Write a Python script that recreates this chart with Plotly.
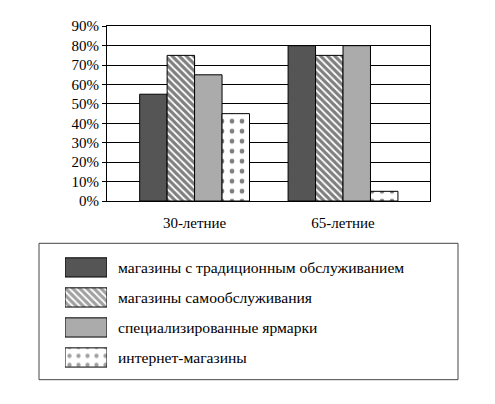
import plotly.graph_objects as go

# age groups on the x axis
groups = ["30-летние", "65-летние"]

# share of buyers, %
traditional = [55, 80]
self_service = [75, 75]
fairs = [65, 80]
online = [45, 5]

names = ["магазины с традиционным обслуживанием",
         "магазины самообслуживания",
         "специализированные ярмарки",
         "интернет-магазины"]
fill_colors = ["#555555", "white", "#ababab", "white"]
patterns = ["", "\\", "", "."]

W, H = 495, 404
font = dict(family="'Times New Roman', 'Liberation Serif', serif", size=15, color="black")
legend_font = dict(font, size=15.6)

def px_x(p):
    return p / W

def px_y(p):
    return 1 - p / H

fig = go.Figure()

series = [traditional, self_service, fairs, online]
for i in range(len(series)):
    fig.add_trace(go.Bar(
        x=groups, y=series[i], name=names[i], showlegend=False,
        marker=dict(color=fill_colors[i], line=dict(color="black", width=1),
                    pattern=dict(shape=patterns[i], fgcolor="black", bgcolor=fill_colors[i],
                                 size=5 if patterns[i] == "\\" else 10,
                                 solidity=0.65 if patterns[i] == "\\" else 0.18)),
        xaxis="x", yaxis="y"))

# legend drawn as a small bar chart so the swatches keep their patterns
fig.add_trace(go.Bar(
    x=[1] * len(names), y=names, orientation="h", width=0.64, showlegend=False,
    marker=dict(color=fill_colors, line=dict(color="black", width=1),
                pattern=dict(shape=patterns, fgcolor="black", bgcolor=fill_colors,
                             size=[8, 5, 8, 9], solidity=[0.2, 0.65, 0.2, 0.18])),
    xaxis="x2", yaxis="y2", hoverinfo="skip"))

fig.update_layout(
    width=W, height=H,
    margin=dict(l=0, r=0, t=0, b=0),
    paper_bgcolor="white", plot_bgcolor="white",
    font=font,
    barmode="group", bargap=0.26, bargroupgap=0,
    xaxis=dict(domain=[px_x(107), px_x(430)], range=[-0.59, 1.586],
               showline=True, mirror=True, linecolor="black", linewidth=1,
               ticks="", showgrid=False, ticklabelstandoff=8, tickfont=font),
    yaxis=dict(domain=[px_y(201), px_y(19)], range=[0, 90], dtick=10, ticksuffix="%",
               showline=True, mirror=True, linecolor="black", linewidth=1,
               showgrid=True, gridcolor="black", gridwidth=1,
               ticks="outside", ticklen=4, tickcolor="black", tickfont=font, zeroline=False),
    xaxis2=dict(domain=[px_x(65), px_x(107)], range=[0, 1], anchor="y2",
                visible=False, fixedrange=True),
    yaxis2=dict(domain=[px_y(379.5), px_y(254.5)], anchor="x2", side="right",
                categoryorder="array", categoryarray=names[::-1],
                showgrid=False, showline=False, ticks="", zeroline=False,
                ticklabelstandoff=10, tickfont=legend_font, fixedrange=True),
    shapes=[dict(type="rect", xref="paper", yref="paper",
                 x0=px_x(39), x1=px_x(458), y0=px_y(387), y1=px_y(245),
                 line=dict(color="#444444", width=1), fillcolor="rgba(0,0,0,0)", layer="below")],
)

fig.write_html("out.html", config={"displayModeBar": False},
               post_script="document.body.style.margin='0';document.body.style.overflow='hidden';")
